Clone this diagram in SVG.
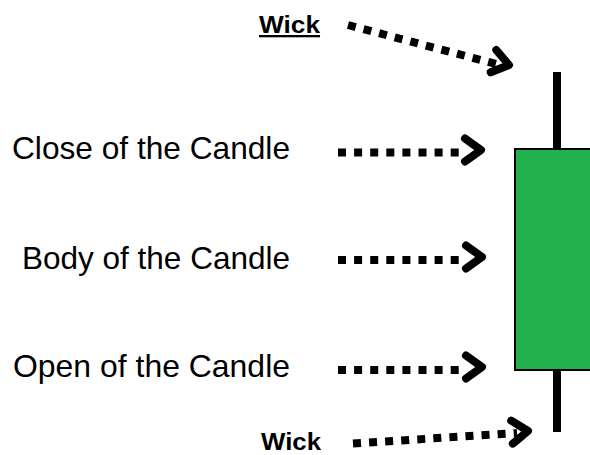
<svg xmlns="http://www.w3.org/2000/svg" xmlns:xlink="http://www.w3.org/1999/xlink" width="590" height="455" viewBox="0 0 590 455">
  <style>
    .label { font-family: "Liberation Sans", Arial, sans-serif; font-size: 30.5px; fill: #000; }
    .wick-label { font-family: "Liberation Sans", Arial, sans-serif; font-size: 23px; font-weight: bold; fill: #000; }
    .dots { fill: none; stroke: #000; stroke-width: 8; stroke-dasharray: 8 8.1; stroke-linecap: butt; }
    .head { fill: none; stroke: #000; stroke-width: 8; stroke-linecap: round; stroke-linejoin: round; }
    .wick { stroke: #000; stroke-width: 8; }
    .body { fill: #22b14c; stroke: #000; stroke-width: 2; }
  </style>
  <defs>
    <!-- chevron arrowhead, tip at origin pointing along +x -->
    <path id="chev" class="head" d="M-16,-11.5 L0,0 L-16,11.5"/>
  </defs>

  <rect width="590" height="455" fill="#fff"/>

  <!-- candle -->
  <g id="candle">
    <line class="wick" x1="557" y1="72" x2="557" y2="432"/>
    <rect class="body" x="515" y="149" width="90" height="221"/>
  </g>

  <!-- labels -->
  <g id="wick-top">
    <text class="wick-label" x="259" y="33" text-decoration="underline" textLength="61" lengthAdjust="spacingAndGlyphs">Wick</text>
  </g>
  <g id="close">
    <text class="label" x="12" y="159" textLength="278" lengthAdjust="spacingAndGlyphs">Close of the Candle</text>
  </g>
  <g id="body">
    <text class="label" x="22" y="269" textLength="268" lengthAdjust="spacingAndGlyphs">Body of the Candle</text>
  </g>
  <g id="open">
    <text class="label" x="13" y="377" textLength="277" lengthAdjust="spacingAndGlyphs">Open of the Candle</text>
  </g>
  <g id="wick-bottom">
    <text class="wick-label" x="261" y="450" textLength="60" lengthAdjust="spacingAndGlyphs">Wick</text>
  </g>

  <!-- dotted arrows -->
  <g id="connectors">
    <path class="dots" d="M348,25 L496,64"/>
    <use xlink:href="#chev" transform="translate(509,65) rotate(14)"/>

    <path class="dots" d="M338,152.5 L460,152.5"/>
    <use xlink:href="#chev" transform="translate(481,150)"/>

    <path class="dots" d="M338,260 L460,260"/>
    <use xlink:href="#chev" transform="translate(482,257)"/>

    <path class="dots" d="M338,370 L460,370"/>
    <use xlink:href="#chev" transform="translate(482,367)"/>

    <path class="dots" d="M353,443.5 L517,433"/>
    <use xlink:href="#chev" transform="translate(528,431) rotate(-4)"/>
  </g>
</svg>
